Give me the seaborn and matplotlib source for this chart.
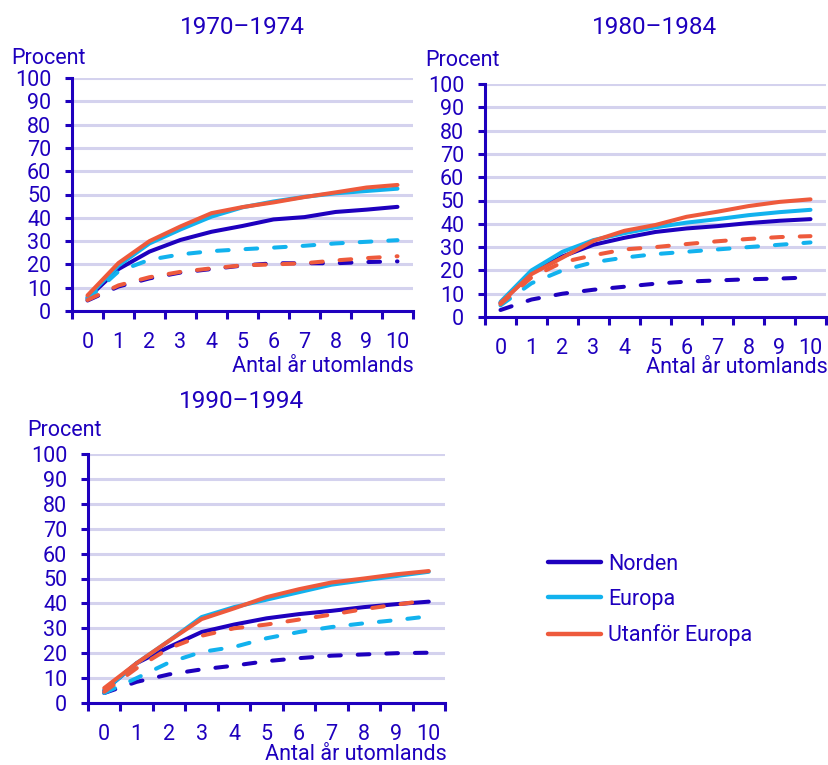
import numpy as np
import pandas as pd
import matplotlib
matplotlib.use('Agg')
import matplotlib.pyplot as plt
import seaborn as sns
from matplotlib.lines import Line2D

# antal år utomlands
years = list(range(11))
groups = ['Norden', 'Europa', 'Utanför Europa']

# 1970-1974 (heldragen / streckad)
norden_70 = [5.5, 18, 25.5, 30.5, 34, 36.5, 39.3, 40.3, 42.5, 43.5, 44.7]
europa_70 = [6, 19.5, 29, 35, 40.5, 44.5, 47, 49, 50.5, 51.5, 52.5]
utanfor_70 = [6.7, 20.6, 30, 36.3, 42, 44.6, 46.6, 48.9, 50.9, 53, 54.1]
norden_70_d = [4.5, 10.5, 14, 16.5, 18, 19.5, 20.5, 20.5, 20.5, 21, 21.3]
europa_70_d = [5, 17, 22, 24.3, 25.7, 26.5, 27.2, 28, 29, 29.7, 30.4]
utanfor_70_d = [4.7, 11, 14.5, 16.8, 18.3, 19.6, 20, 20.5, 21.7, 22.7, 23.5]

# 1980-1984
norden_80 = [6, 19, 26, 31, 34, 36.5, 38, 39, 40.3, 41.3, 42]
europa_80 = [6.5, 20, 28, 33, 36, 38.5, 40.5, 42, 43.7, 45, 46]
utanfor_80 = [6, 18.4, 25.5, 32.7, 37, 39.5, 43, 45.2, 47.6, 49.4, 50.5]
norden_80_d = [3, 7.5, 10, 11.7, 13, 14.3, 15.2, 15.7, 16.2, 16.5, 17]
europa_80_d = [5, 14.5, 20, 23.5, 25.5, 27, 28, 29, 30, 31, 32]
utanfor_80_d = [5.5, 17, 23.5, 26.5, 29, 30, 31.3, 32.5, 33.5, 34.3, 34.7]

# 1990-1994
norden_90 = [5, 16, 22.5, 28.5, 31.5, 34, 35.7, 37, 38.5, 39.7, 40.7]
europa_90 = [5, 16, 25, 34.5, 38.5, 41.5, 44.5, 47.5, 49.3, 51, 52.7]
utanfor_90 = [6, 16, 25, 33.7, 38, 42.5, 45.7, 48.4, 50, 51.7, 53]
norden_90_d = [4, 8.5, 11.5, 13.5, 15, 16.8, 18, 19, 19.5, 20, 20.2]
europa_90_d = [4, 10, 16.3, 20.5, 22.5, 26, 28.5, 30.5, 32, 33.3, 34.8]
utanfor_90_d = [4.5, 14, 22, 27, 30, 31.5, 33.5, 35.5, 37.7, 39.5, 41.3]

TEXT = '#1E00BE'
colors = {'Norden': '#1E00BE', 'Europa': '#12B2EE', 'Utanför Europa': '#EE5A3C'}
GRID = '#D4D2EE'
FS = 15.5
FS_TITLE = 17.5

sns.set_style('white')
plt.rcParams['font.family'] = ['Roboto', 'DejaVu Sans']
plt.rcParams['lines.solid_capstyle'] = 'round'
plt.rcParams['lines.dash_capstyle'] = 'round'

W, H = 829, 765
fig = plt.figure(figsize=(W / 100, H / 100), dpi=100)


def px_axes(left, top, right, bottom):
    return fig.add_axes([left / W, 1 - bottom / H, (right - left) / W, (bottom - top) / H])


def px_text(x, y, s, **kw):
    fig.text(x / W, 1 - y / H, s, color=TEXT, **kw)


def make_df(solid, dashed):
    rows = []
    for g, vals in zip(groups, solid):
        for x, v in zip(years, vals):
            rows.append({'år': x, 'procent': v, 'grupp': g, 'typ': 'a'})
    for g, vals in zip(groups, dashed):
        for x, v in zip(years, vals):
            rows.append({'år': x, 'procent': v, 'grupp': g, 'typ': 'b'})
    return pd.DataFrame(rows)


def draw_panel(ax, df):
    sns.lineplot(data=df, x='år', y='procent', hue='grupp', style='typ',
                 hue_order=groups, palette=colors,
                 dashes={'a': '', 'b': (2.9, 4.2)},
                 linewidth=2.9, legend=False, ax=ax)
    ax.set_xlim(-0.5, 10.5)
    ax.set_ylim(0, 100)
    ax.set_yticks(range(0, 101, 10))
    ax.set_xticks(np.arange(-0.5, 11, 1))
    ax.set_xticklabels([])
    ax.set_xticks(years, minor=True)
    ax.set_xticklabels([str(y) for y in years], minor=True)
    ax.tick_params(axis='x', which='major', direction='out', length=6,
                   width=2.2, color=TEXT, bottom=True)
    ax.tick_params(axis='x', which='minor', length=0, pad=15,
                   labelsize=FS, labelcolor=TEXT)
    ax.tick_params(axis='y', direction='out', length=5, width=2.2,
                   color=TEXT, left=True, pad=10, labelsize=FS, labelcolor=TEXT)
    ax.grid(axis='y', color=GRID, linewidth=2.2)
    ax.set_axisbelow(True)
    for s in ['top', 'right']:
        ax.spines[s].set_visible(False)
    for s in ['left', 'bottom']:
        ax.spines[s].set_color(TEXT)
        ax.spines[s].set_linewidth(2.2)
        ax.spines[s].set_zorder(3)
    ax.set_xlabel('')
    ax.set_ylabel('')


ax1 = px_axes(72, 78, 413, 311)
draw_panel(ax1, make_df([norden_70, europa_70, utanfor_70],
                        [norden_70_d, europa_70_d, utanfor_70_d]))
ax2 = px_axes(485, 84, 826, 317)
draw_panel(ax2, make_df([norden_80, europa_80, utanfor_80],
                        [norden_80_d, europa_80_d, utanfor_80_d]))
ax3 = px_axes(88, 454, 445, 703)
draw_panel(ax3, make_df([norden_90, europa_90, utanfor_90],
                        [norden_90_d, europa_90_d, utanfor_90_d]))

# titlar och axeltexter
px_text(242, 28, '1970–1974', fontsize=FS_TITLE, ha='center', va='center')
px_text(655, 28, '1980–1984', fontsize=FS_TITLE, ha='center', va='center')
px_text(242, 401, '1990–1994', fontsize=FS_TITLE, ha='center', va='center')
px_text(11, 59, 'Procent', fontsize=FS, ha='left', va='center')
px_text(425, 60, 'Procent', fontsize=FS, ha='left', va='center')
px_text(27, 431, 'Procent', fontsize=FS, ha='left', va='center')
px_text(414, 366, 'Antal år utomlands', fontsize=FS, ha='right', va='center')
px_text(828, 367, 'Antal år utomlands', fontsize=FS, ha='right', va='center')
px_text(447, 755, 'Antal år utomlands', fontsize=FS, ha='right', va='center')

handles = [Line2D([0], [0], color=colors[g], linewidth=3.2) for g in groups]
leg = fig.legend(handles, groups, loc='center left',
                 bbox_to_anchor=(548 / W, 1 - 600 / H), frameon=False,
                 fontsize=FS, handlelength=2.47, handletextpad=0.33,
                 labelspacing=0.66, borderpad=0, borderaxespad=0)
for t in leg.get_texts():
    t.set_color(TEXT)

fig.savefig('out.png', dpi=100)
